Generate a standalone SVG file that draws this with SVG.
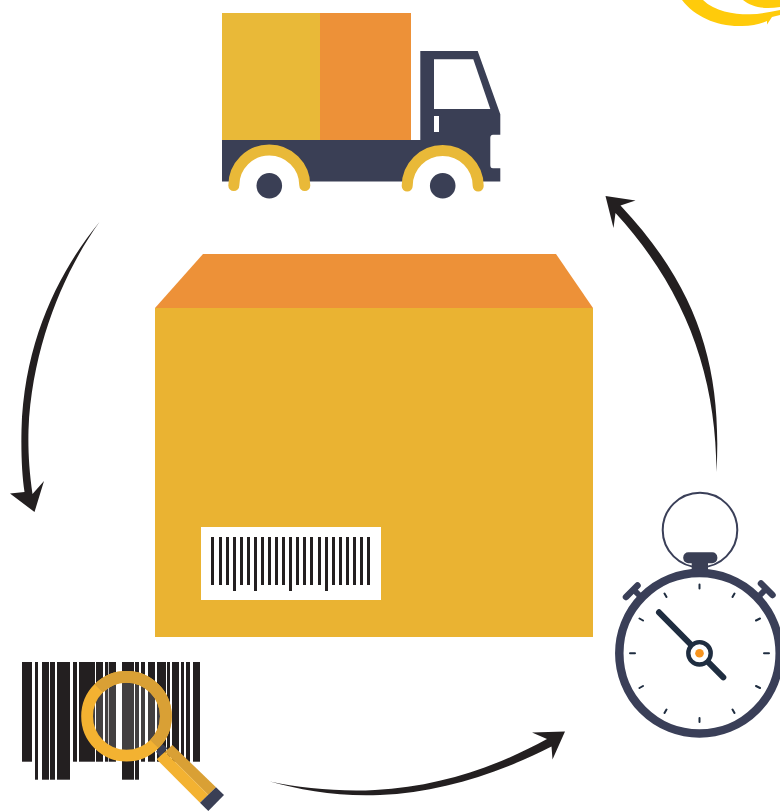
<svg xmlns="http://www.w3.org/2000/svg" width="780" height="811" viewBox="0 0 780 811">
<style>
.navy{fill:#3a3f55}
.bar{fill:#231f20}
.y{fill:#e9b938}
.o{fill:#ed9138}
.mud{fill:none;stroke:#e9b938;stroke-width:11;stroke-linecap:round}
.tick{stroke:#1f2d40;stroke-width:2;stroke-linecap:round;fill:none}
.hand{stroke:#1f2d40;stroke-width:6;stroke-linecap:round;fill:none}
.rim{fill:none;stroke:#3a3f58}
.light{fill:#f3b231}
.dark{fill:#d9a035}
</style>
<rect width="780" height="811" fill="#fff"/>
<g id="swoosh">
<path fill="#ffcb0b" d="M682,0C695,17 718,27 742,26C752,26 760,24 767,21L767,24.500L772,17L780,15V10C770,12 760,14 750,14.300C735,14.500 715,12 703,0ZM743,0C749,5 758,8 768,8C772,8 776,7.500 780,7V0Z"/>
</g>
<g id="truck">
<rect class="y" x="222" y="13" width="98" height="127"/>
<rect class="o" x="320" y="13" width="91" height="127"/>
<path class="navy" d="M222,140H420.300V51H477.700L500.300,114.300V134.700H493C491,134.700 490.300,136 490.300,138V165C490.300,167 491,168.300 493,168.300H500.300V181.500H222Z"/>
<path fill="#fff" d="M434,59.300H473.300L490.300,109H434Z"/>
<rect fill="#fff" x="434" y="116" width="5" height="16"/>
<circle fill="#fff" cx="269.300" cy="185.500" r="32"/>
<circle fill="#fff" cx="442.700" cy="186.300" r="32"/>
<path class="mud" d="M233.800,185.500A35.500,35.500 0 0 1 304.800,185.500"/>
<path class="mud" d="M407.200,186A35.500,35.500 0 0 1 478.200,186"/>
<circle class="navy" cx="269.300" cy="185.700" r="12.800"/>
<circle class="navy" cx="442.700" cy="185.700" r="12.800"/>
</g>
<g id="box">
<path class="o" d="M155,308L203,254H556L593,308Z"/>
<rect fill="#eab332" x="155" y="308" width="438" height="329"/>
<rect fill="#fff" x="201" y="527" width="180" height="73"/>
<g class="bar">
<rect x="211" y="537" width="3" height="48"/><rect x="219" y="537" width="3" height="48"/><rect x="226" y="537" width="3" height="48"/><rect x="233" y="537" width="3" height="54"/><rect x="240" y="537" width="3" height="48"/><rect x="247" y="537" width="3" height="48"/><rect x="254" y="537" width="3" height="54"/><rect x="261" y="537" width="3" height="48"/><rect x="268" y="537" width="3" height="48"/><rect x="275" y="537" width="3" height="48"/><rect x="282" y="537" width="3" height="48"/><rect x="289" y="537" width="3" height="54"/><rect x="296" y="537" width="3" height="48"/><rect x="303" y="537" width="3" height="48"/><rect x="310" y="537" width="3" height="48"/><rect x="318" y="537" width="3" height="48"/><rect x="325" y="537" width="3" height="54"/><rect x="332" y="537" width="3" height="48"/><rect x="339" y="537" width="3" height="48"/><rect x="346" y="537" width="3" height="48"/><rect x="353" y="537" width="3" height="48"/><rect x="360" y="537" width="3" height="48"/><rect x="367" y="537" width="3" height="48"/>
</g>
</g>
<g id="stopwatch">
<circle class="rim" cx="700" cy="530" r="37.300" stroke-width="2"/>
<rect class="navy" x="683.300" y="552.300" width="34" height="11" rx="5"/>
<rect class="navy" x="691.700" y="560" width="16.300" height="12"/>
<circle fill="#fff" cx="699.500" cy="653.300" r="76"/>
<circle class="rim" cx="699.500" cy="653.300" r="80.200" stroke-width="8.500"/>
<path class="rim" stroke-width="6.500" stroke-linecap="round" d="M626,597L637.500,585.500M761,583.500L772.500,595"/>
<path class="rim" stroke-width="6" d="M634,590L640,596M765,590L759,596"/>
<g class="tick">
<path d="M699.500,584.500V588.500M699.500,718V722M664.500,593.500L666.500,597M732.500,597L734.500,593.500M639.500,618.500L643,620.500M756,620.500L760,618.500M630,653.300H635M764,653.300H769M639.500,688L643,686M756,686L760,688M664.500,713L666.500,709.500M732.500,709.500L734.500,713"/>
</g>
<path class="hand" d="M659,612.300L723.300,677.300"/>
<circle cx="699.500" cy="653.300" r="11.200" fill="#fff" stroke="#1f2d40" stroke-width="4.400"/>
<circle cx="699.500" cy="653.300" r="4.300" fill="#f7941e"/>
</g>
<g id="scanner">
<g class="bar">
<rect x="22" y="662" width="10" height="99.700"/><rect x="35" y="662" width="3" height="117.700"/><rect x="42" y="662" width="7" height="117.700"/><rect x="50" y="662" width="5" height="117.700"/><rect x="57" y="662" width="13" height="117.700"/><rect x="73" y="662" width="4" height="99.700"/><rect x="79" y="662" width="16" height="99.700"/><rect x="96" y="662" width="7" height="99.700"/><rect x="105" y="662" width="3.300" height="99.700"/><rect x="109" y="662" width="7" height="99.700"/><rect x="122" y="662" width="12" height="117.700"/><rect x="135" y="662" width="4" height="117.700"/><rect x="141" y="662" width="4" height="99.700"/><rect x="148" y="662" width="7" height="99.700"/><rect x="157" y="662" width="9" height="99.700"/><rect x="167" y="662" width="3" height="99.700"/><rect x="172" y="662" width="7" height="99.700"/><rect x="181" y="662" width="3" height="99.700"/><rect x="186" y="662" width="4" height="99.700"/><rect x="193" y="662" width="7" height="99.700"/>
</g>
<circle cx="126.500" cy="716.300" r="34" fill="#fff" fill-opacity=".15"/>
<path class="navy" d="M156,751.700L160,757.300L167.300,748.300L162.700,744Z"/>
<path class="dark" d="M172.300,745L216,787.300L208.300,795L165,751.700Z"/>
<path class="light" d="M165,751.700L208.300,795L200,802.700L156.700,759.300Z"/>
<path class="navy" d="M216,787.300L224,795L208.300,811L200,802.700Z"/>
<circle cx="126.500" cy="716.300" r="39.400" fill="none" stroke="#f3b231" stroke-width="11.800"/>
<path fill="none" stroke="#d9a035" stroke-width="11.800" d="M98.640,688.440A39.400,39.400 0 0 1 154.360,744.160"/>
</g>
<g id="connectors" fill="#231f20">
<path d="M99.500,222C60,270 24,340 21.500,430C21,455 22,475 24.500,492L10,493.500L34.500,512L44,481L32.500,494C29,470 28,450 28.500,430C32,345 65,270 99.500,222Z"/>
<path d="M716.500,472C722,370 700,290 620.500,205.500L635.500,200.500L605.500,196L613.500,228L615.500,213C686,290 716,375 716.500,472Z"/>
<path d="M270,781.500C300,788 340,792 375,790C440,787 500,765 547,739L532,732.500L565,731.500L552.500,759.500L551.500,746.500C495,775 440,792 380,795C340,797 300,790 270,781.500Z"/>
</g>
</svg>
